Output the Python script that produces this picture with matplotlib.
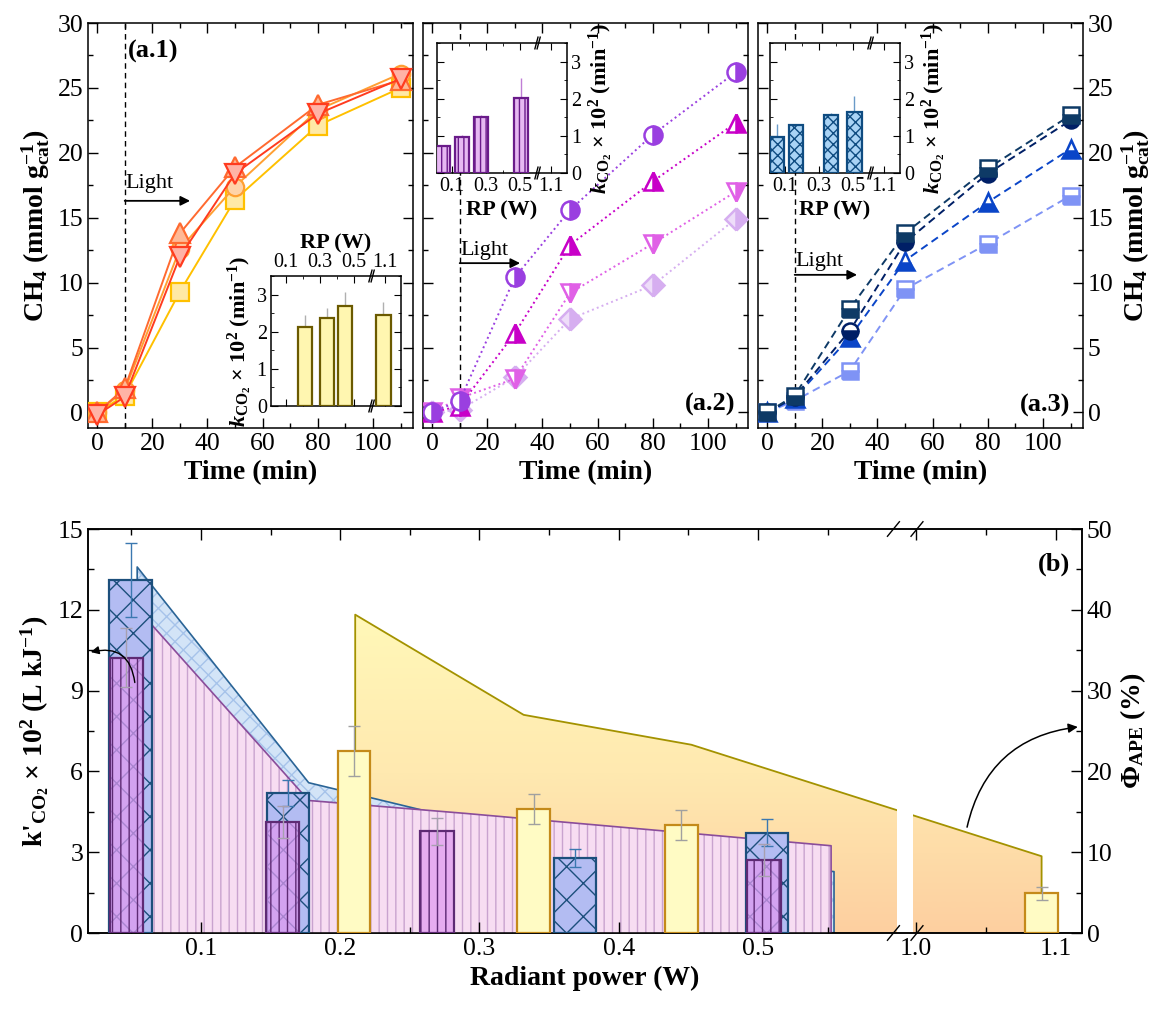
"""
CH4 production of three catalyst series vs. time, with kCO2 insets,
and the radiant-power summary (k'CO2 bars + apparent photonic efficiency).
"""
import numpy as np
import matplotlib
matplotlib.use('Agg')
import matplotlib.pyplot as plt
from matplotlib.ticker import MultipleLocator
from matplotlib.colors import LinearSegmentedColormap

plt.rcParams['font.family'] = ['Liberation Serif', 'DejaVu Serif']
plt.rcParams['mathtext.fontset'] = 'custom'
plt.rcParams['mathtext.rm'] = 'Liberation Serif:bold'
plt.rcParams['mathtext.it'] = 'Liberation Serif:italic:bold'
plt.rcParams['mathtext.bf'] = 'Liberation Serif:bold'
plt.rcParams['axes.linewidth'] = 1.1
plt.rcParams['hatch.linewidth'] = 1.0


### Data

t = [0, 10, 30, 50, 80, 110]                       # [min]

# CH4 (mmol g_cat^-1), panel a.1
a1_sq   = [0.0, 1.3, 9.3, 16.4, 22.1, 25.0]
a1_circ = [0.0, 1.7, 12.6, 17.4, 23.3, 26.1]
a1_up   = [0.0, 1.85, 13.8, 18.9, 23.7, 25.6]
a1_dn   = [-0.2, 1.2, 12.0, 18.4, 23.0, 25.7]
# panel a.2
a2_dia  = [0.0, 0.2, 2.7, 7.2, 9.8, 14.9]
a2_dn   = [0.0, 1.1, 2.6, 9.2, 13.0, 17.0]
a2_up   = [0.0, 0.5, 6.1, 12.9, 17.8, 22.3]
a2_circ = [0.0, 0.9, 10.4, 15.6, 21.4, 26.2]
# panel a.3
a3_lsq  = [0.0, 0.9, 3.2, 9.5, 13.0, 16.7]
a3_up   = [0.0, 1.1, 5.8, 11.7, 16.2, 20.3]
a3_circ = [0.0, 1.2, 6.3, 13.1, 18.4, 22.5]
a3_sq   = [0.0, 1.3, 8.0, 13.8, 18.8, 22.9]

# radiant power of each catalyst series [W]
rp_a1 = [0.210, 0.339, 0.445, 1.090]
rp_a2 = [0.0466, 0.1587, 0.2695, 0.5043]
rp_a3 = [0.0496, 0.1624, 0.3686, 0.5065]

# kCO2 x 10^2 (min^-1), insets
k_a1 = [2.13, 2.37, 2.70, 2.46]
k_a1_err = [0.33, 0.27, 0.36, 0.34]
k_a2 = [0.73, 0.98, 1.50, 2.01]
k_a2_err = [0.03, 0.03, 0.07, 0.54]
k_a3 = [0.96, 1.28, 1.57, 1.64]
k_a3_err = [0.37, 0.02, 0.04, 0.42]

# k'CO2 x 10^2 (L kJ^-1), panel b
kp_a1 = [6.77, 4.60, 4.02, 1.47]
kp_a1_err = [0.93, 0.56, 0.55, 0.23]
kp_a2 = [10.22, 4.13, 3.77, 2.71]
kp_a2_err = [1.1, 0.6, 0.5, 0.6]
kp_a3 = [13.1, 5.2, 2.79, 3.73]
kp_a3_err = [1.37, 0.47, 0.33, 0.50]

# apparent photonic efficiency (%) areas, panel b
phi_rp_a1 = [0.2108, 0.3317, 0.4521, 1.090]
phi_a1 = [39.4, 27.0, 23.3, 9.5]
phi_rp_a2 = [0.065, 0.1774, 0.290, 0.5524]
phi_a2 = [38.1, 16.4, 14.8, 10.8]
phi_rp_a3 = [0.0543, 0.1774, 0.384, 0.5545]
phi_a3 = [45.3, 18.6, 10.0, 7.6]


### helpers

def broken(a, b, gap):
    """piecewise x scale: [a, b] squeezed to a gap of width `gap`"""
    span = b - a

    def fwd(x):
        x = np.asarray(x, dtype=float)
        mid = a + (x - a) / span * gap
        return np.where(x <= a, x, np.where(x >= b, x - span + gap, mid))

    def inv(u):
        u = np.asarray(u, dtype=float)
        mid = a + (u - a) / gap * span
        return np.where(u <= a, u, np.where(u >= a + gap, u + span - gap, mid))
    return fwd, inv


def slashes(ax, fracs, w, h):
    for f in fracs:
        for yb in (0, 1):
            ax.plot([f - w, f + w], [yb - h, yb + h], color='k', lw=1.0,
                    transform=ax.transAxes, clip_on=False, zorder=20)


fig = plt.figure(figsize=(11.61, 10.09), dpi=100)


def px_axes(x0, y0, x1, y1):
    return fig.add_axes([x0 / 1161, 1 - y1 / 1009, (x1 - x0) / 1161, (y1 - y0) / 1009])


### (a) CH4 vs time

tops = [px_axes(88, 23, 413, 428), px_axes(423, 23, 748, 428), px_axes(758, 23, 1083, 428)]
ch4_label = r'CH$_4$ (mmol g$_{\rm cat}^{-1}$)'
for ax in tops:
    ax.set_xlim(-3.3, 114.5)
    ax.set_ylim(-1.2, 30)
    ax.xaxis.set_major_locator(MultipleLocator(20))
    ax.xaxis.set_minor_locator(MultipleLocator(10))
    ax.yaxis.set_major_locator(MultipleLocator(5))
    ax.yaxis.set_minor_locator(MultipleLocator(2.5))
    ax.tick_params(which='both', direction='in', top=True, right=True, labelsize=18.5)
    ax.tick_params(which='major', length=7, width=1)
    ax.tick_params(which='minor', length=3.5, width=1)
    ax.set_xlabel('Time (min)', fontsize=20, fontweight='bold')
    ax.axvline(10, color='k', ls=(0, (4, 3)), lw=1, zorder=1)

tops[0].set_ylabel(ch4_label, fontsize=20, fontweight='bold')
tops[1].tick_params(labelleft=False)
tops[2].tick_params(labelleft=False, labelright=True)
tops[2].yaxis.set_label_position('right')
tops[2].set_ylabel(ch4_label, fontsize=20, fontweight='bold')

a1_sets = [(a1_sq, 's', '#FFC000', '#FFE9A6'),
           (a1_circ, 'o', '#FFA033', '#FFD3A8'),
           (a1_up, '^', '#FF6A30', '#FFB896'),
           (a1_dn, 'v', '#FF3B1F', '#FFB3A6')]
for y, m, c, f in a1_sets:
    tops[0].plot(t, y, '-', color=c, lw=1.4, marker=m, ms=14 if m in '^v' else 12.5,
                 mec=c, mfc=f, mew=1.6, zorder=3)

a2_sets = [(a2_dia, 'D', '#D6AEF0', '#EEDDF9'),
           (a2_dn, 'v', '#E060E6', 'white'),
           (a2_up, '^', '#C800C8', 'white'),
           (a2_circ, 'o', '#9A3FE0', 'white')]
for y, m, c, alt in a2_sets:
    tops[1].plot(t, y, ':', color=c, lw=1.4, marker=m, ms=13 if m != 'D' else 11,
                 mec=c, mfc=c, mfcalt=alt, fillstyle='right', mew=1.8, zorder=3)

a3_sets = [(a3_lsq, 's', '#7F93F5'),
           (a3_up, '^', '#0A45C8'),
           (a3_circ, 'o', '#001F66'),
           (a3_sq, 's', '#0E3A66')]
for y, m, c in a3_sets:
    tops[2].plot(t, y, color=c, ls=(0, (4, 2.5)), lw=1.4, marker=m,
                 ms=13 if m == '^' else 11.5, mec=c, mfc=c, mfcalt='white',
                 fillstyle='bottom', mew=1.8, zorder=3)

# Light arrows and panel tags
light = [(17.6, 16.3, 33.7), (12.5, 11.5, 31.9), (11.6, 10.6, 32.6)]
for ax, (ytxt, yarr, xend) in zip(tops, light):
    ax.text(10.4, ytxt, 'Light', fontsize=16, va='center', ha='left')
    ax.annotate('', xy=(xend, yarr), xytext=(10, yarr),
                arrowprops=dict(arrowstyle='-|>', color='k', lw=1.3,
                                mutation_scale=14, shrinkA=0, shrinkB=0))
tops[0].text(11.3, 27.8, '(a.1)', fontsize=19, fontweight='bold', va='center')
tops[1].text(110, 0.6, '(a.2)', fontsize=19, fontweight='bold', va='center', ha='right')
tops[2].text(110, 0.5, '(a.3)', fontsize=19, fontweight='bold', va='center', ha='right')


### insets: kCO2 vs radiant power

k_label = r'$k_{\rm CO_2}$ × 10$^{2}$ (min$^{-1}$)'
insets = [
    ((271, 276, 401, 406), rp_a1, k_a1, k_a1_err, '#FFF6B0', '#6B5A00', None, '#B0B0B0', 'left'),
    ((437, 43, 567, 173), rp_a2, k_a2, k_a2_err, '#E6B8F2', '#6A1B8A', '|||', '#C07ED6', 'right'),
    ((770, 43, 900, 173), rp_a3, k_a3, k_a3_err, '#A9D3F5', '#0F4C81', 'xxx', '#6A9AC8', 'right'),
]
for rect, rp, k, err, face, edge, hatch, ecol, side in insets:
    ia = px_axes(*rect)
    ia.set_xscale('function', functions=broken(0.60, 1.02, 0.002))
    ia.errorbar(rp, k, yerr=err, fmt='none', ecolor=ecol, elinewidth=1, zorder=2)
    ia.bar(rp, k, width=0.085, color=face, edgecolor=edge, hatch=hatch, lw=1.6, zorder=3)
    ia.set_xlim(0.01, 1.193)
    ia.set_ylim(0, 3.5)
    ia.set_xticks([0.1, 0.3, 0.5, 1.1])
    ia.set_xticks([0.2, 0.4], minor=True)
    ia.set_xticklabels(['0.1', '0.3', '0.5', '1.1'])
    ia.yaxis.set_major_locator(MultipleLocator(1))
    ia.yaxis.set_minor_locator(MultipleLocator(0.5))
    ia.tick_params(which='both', direction='in', top=True, bottom=True, left=True,
                   right=True, labelsize=14.5, pad=3)
    ia.tick_params(which='major', length=5)
    ia.tick_params(which='minor', length=2.5)
    if side == 'left':
        ia.tick_params(labeltop=True, labelbottom=False)
        ia.xaxis.set_label_position('top')
        ia.set_ylabel(k_label, fontsize=16, fontweight='bold', labelpad=2)
    else:
        ia.tick_params(labelleft=False, labelright=True)
        ia.yaxis.set_label_position('right')
        ia.set_ylabel(k_label, fontsize=16, fontweight='bold', labelpad=4)
    ia.set_xlabel('RP (W)', fontsize=16, fontweight='bold', labelpad=3)
    slashes(ia, [0.765, 0.782], 0.012, 0.045)


### (b) k'CO2 and apparent photonic efficiency vs radiant power

axb = px_axes(88, 529, 1082, 933)
gap_a, gap_b = 0.600, 0.9977
axb.set_xscale('function', functions=broken(gap_a, gap_b, 0.0112))
axr = axb.twinx()
axb.set_zorder(axr.get_zorder() + 1)
axb.patch.set_visible(False)

# orange efficiency area with vertical gradient
poly = axr.fill_between(phi_rp_a1, phi_a1, 0, facecolor='none', lw=0, zorder=1)
grad = np.linspace(0, 1, 256).reshape(-1, 1)
cmap = LinearSegmentedColormap.from_list('orange', ['#FDCFA0', '#FFE9B0', '#FFF8B8'])
im = axr.imshow(grad, cmap=cmap, aspect='auto', origin='lower', interpolation='bilinear',
                extent=[phi_rp_a1[0], phi_rp_a1[-1], 0, max(phi_a1)], zorder=1)
im.set_clip_path(poly.get_paths()[0], axr.transData)
axr.plot([phi_rp_a1[0]] + phi_rp_a1 + [phi_rp_a1[-1]], [0] + phi_a1 + [0],
         color='#A39200', lw=1.3, zorder=1.2)
axr.axvspan(gap_a, gap_b, color='white', lw=0, zorder=1.5)

# blue and pink areas
axr.fill_between(phi_rp_a3, phi_a3, 0, facecolor='#D3E4F7', edgecolor='#A6C3EA',
                 hatch='xx', lw=0, zorder=2)
axr.plot([phi_rp_a3[0]] + phi_rp_a3 + [phi_rp_a3[-1]], [0] + phi_a3 + [0],
         color='#2A6496', lw=1.2, zorder=2.1)
axr.fill_between(phi_rp_a2, phi_a2, 0, facecolor='#F7DDF2', edgecolor='#C9A3CF',
                 hatch='||', lw=0, zorder=3)
axr.plot([phi_rp_a2[0]] + phi_rp_a2 + [phi_rp_a2[-1]], [0] + phi_a2 + [0],
         color='#8A4C9A', lw=1.2, zorder=3.1)
axr.annotate('', xy=(1.116, 25.5), xytext=(1.0365, 13.1),
             arrowprops=dict(arrowstyle='-|>', color='k', lw=1.1, mutation_scale=14,
                             connectionstyle='arc3,rad=-0.35', shrinkA=0, shrinkB=0))

# bars
axb.bar(rp_a3, kp_a3, width=0.0305, color='#B3BCF2', edgecolor='#1C4F7C', hatch='x',
        lw=1.6, zorder=3)
axb.bar(rp_a2, kp_a2, width=0.024, color=(0.88, 0.60, 0.94, 0.72), edgecolor='#5E2A74',
        hatch='||', lw=1.6, zorder=4)
axb.bar(rp_a1, kp_a1, width=0.0235, color='#FFFBC4', edgecolor='#C48A1A', lw=1.6, zorder=3)
axb.errorbar(rp_a3, kp_a3, yerr=kp_a3_err, fmt='none', ecolor='#3B78B0', elinewidth=1,
             capsize=4, capthick=1, zorder=6)
axb.errorbar(rp_a2, kp_a2, yerr=kp_a2_err, fmt='none', ecolor='#A8A0B0', elinewidth=1,
             capsize=4, capthick=1, zorder=6)
axb.errorbar(rp_a1, kp_a1, yerr=kp_a1_err, fmt='none', ecolor='#A0A0A0', elinewidth=1,
             capsize=4, capthick=1, zorder=6)
axb.annotate('', xy=(0.021, 10.43), xytext=(0.0526, 9.3),
             arrowprops=dict(arrowstyle='-|>', color='k', lw=1.0, mutation_scale=12,
                             connectionstyle='arc3,rad=0.55', shrinkA=0, shrinkB=0),
             zorder=7)

axb.set_xlim(0.019, 1.119)
axb.set_ylim(0, 15)
axr.set_ylim(0, 50)
axb.set_xticks([0.1, 0.2, 0.3, 0.4, 0.5, 1.0, 1.1])
axb.set_xticklabels(['0.1', '0.2', '0.3', '0.4', '0.5', '1.0', '1.1'])
axb.set_xticks([0.05, 0.15, 0.25, 0.35, 0.45, 0.55, 1.05], minor=True)
axb.yaxis.set_major_locator(MultipleLocator(3))
axb.yaxis.set_minor_locator(MultipleLocator(1.5))
axr.yaxis.set_major_locator(MultipleLocator(10))
axr.yaxis.set_minor_locator(MultipleLocator(5))
axb.tick_params(which='both', direction='in', top=True, right=False, labelsize=18.5)
axr.tick_params(which='both', direction='in', labelsize=18.5)
for a in (axb, axr):
    a.tick_params(which='major', length=8, width=1)
    a.tick_params(which='minor', length=4, width=1)
axb.set_xlabel('Radiant power (W)', fontsize=20, fontweight='bold')
axb.set_ylabel(r"k'$_{\rm CO_2}$ × 10$^{2}$ (L kJ$^{-1}$)", fontsize=20, fontweight='bold')
axr.set_ylabel(r'Φ$_{\rm APE}$ (%)', fontsize=20, fontweight='bold')
axb.text(0.988, 0.913, '(b)', transform=axb.transAxes, ha='right', va='center',
         fontsize=19, fontweight='bold')

fwd, _ = broken(gap_a, gap_b, 0.0112)
u0, u1 = fwd(0.019), fwd(1.119)
fa = (fwd(gap_a) - u0) / (u1 - u0)
fb = (fwd(gap_b) - u0) / (u1 - u0)
slashes(axb, [fa - 0.004, fb + 0.004], 0.006, 0.018)

fig.savefig('out.png', dpi=100)
